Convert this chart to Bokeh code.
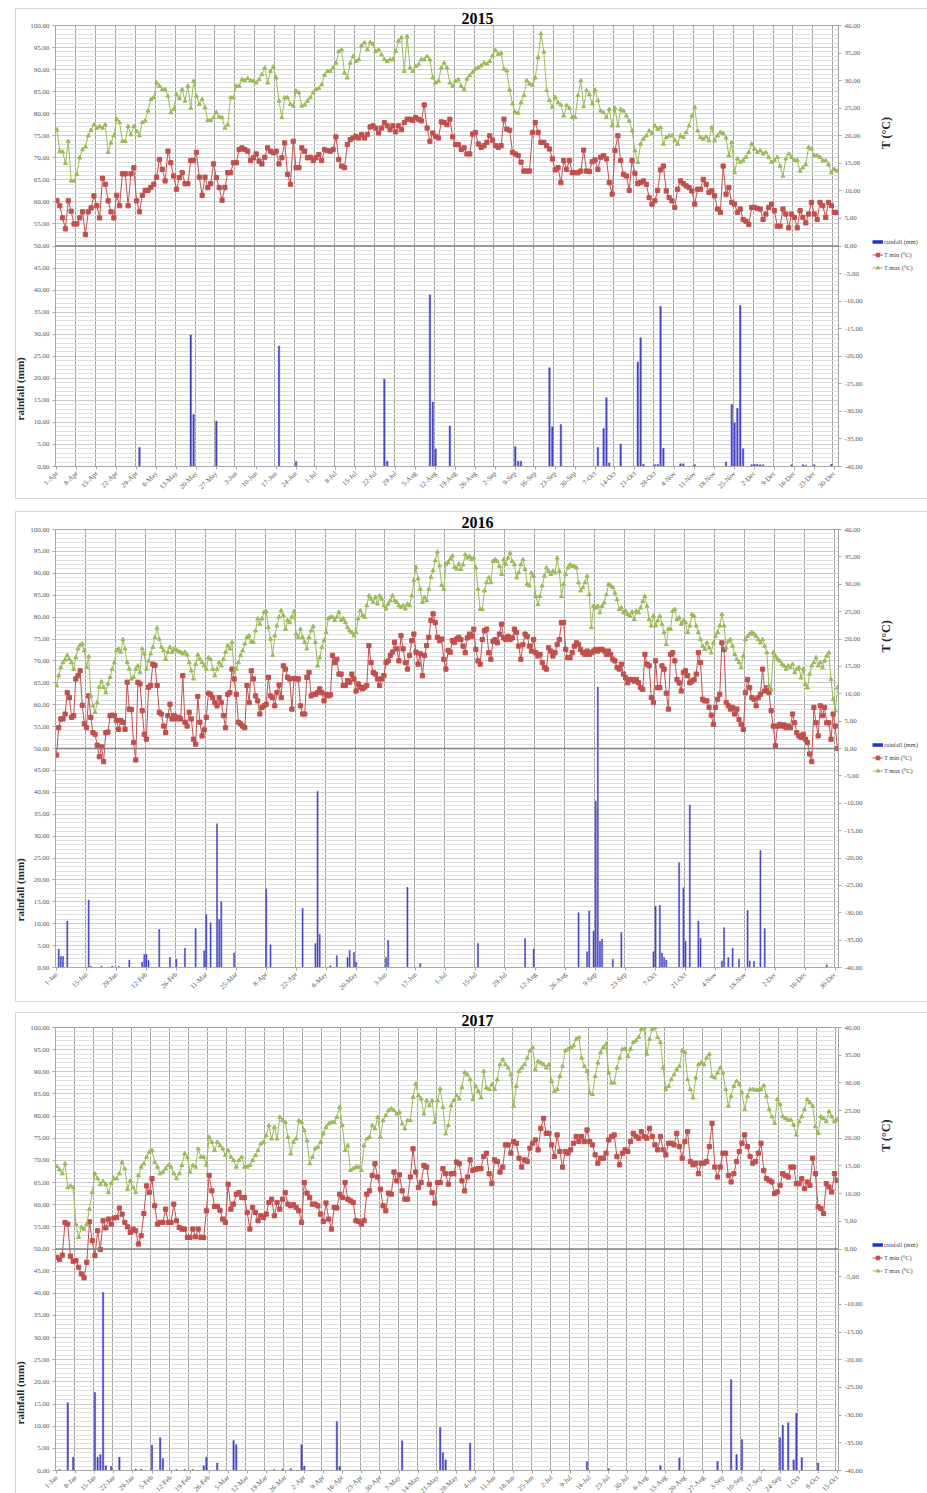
import math
from bokeh.plotting import figure
from bokeh.models import Range1d, LinearAxis, FixedTicker, Span, Label, Legend, LegendItem, Title
from bokeh.layouts import column, row
from bokeh.embed import file_html
from bokeh.resources import INLINE

# ---------------- data ----------------
ticks_2015 = ["1-Apr","8-Apr","15-Apr","22-Apr","29-Apr","6-May","13-May","20-May","27-May","3-Jun",
              "10-Jun","17-Jun","24-Jun","1-Jul","8-Jul","15-Jul","22-Jul","29-Jul","5-Aug","12-Aug",
              "19-Aug","26-Aug","2-Sep","9-Sep","16-Sep","23-Sep","30-Sep","7-Oct","14-Oct","21-Oct",
              "28-Oct","4-Nov","11-Nov","18-Nov","25-Nov","2-Dec","9-Dec","16-Dec","23-Dec","30-Dec"]
ticks_2016 = ["1-Jan","15-Jan","29-Jan","12-Feb","26-Feb","11-Mar","25-Mar","8-Apr","22-Apr","6-May",
              "20-May","3-Jun","17-Jun","1-Jul","15-Jul","29-Jul","12-Aug","26-Aug","9-Sep","23-Sep",
              "7-Oct","21-Oct","4-Nov","18-Nov","2-Dec","16-Dec","30-Dec"]
ticks_2017 = ["1-Jan","8-Jan","15-Jan","22-Jan","29-Jan","5-Feb","12-Feb","19-Feb","26-Feb","5-Mar",
              "12-Mar","19-Mar","26-Mar","2-Apr","9-Apr","16-Apr","23-Apr","30-Apr","7-May","14-May",
              "21-May","28-May","4-Jun","11-Jun","18-Jun","25-Jun","2-Jul","9-Jul","16-Jul","23-Jul",
              "30-Jul","6-Aug","13-Aug","20-Aug","27-Aug","3-Sep","10-Sep","17-Sep","24-Sep","1-Oct",
              "8-Oct","15-Oct"]

# daily temperatures (deg C), 2015: 1-Apr .. 31-Dec
tmax_2015 = [
 21.1,17.2,17.1,15.0,19.0,11.8,11.8,13.0,16.0,17.5, 18.0,20.0,21.0,22.0,21.4,21.7,21.4,22.0,17.0,18.7,
 20.0,23.0,22.4,19.0,19.0,21.7,20.2,21.7,20.8,20.0, 22.4,22.7,24.5,26.6,26.9,29.6,29.0,28.4,28.4,27.2,
 24.2,24.8,27.5,26.8,28.4,26.3,29.0,25.0,29.9,27.2, 25.7,26.6,25.1,22.8,22.8,23.3,24.2,23.4,23.3,21.4,
 22.0,26.9,26.9,29.0,29.0,30.2,30.0,30.4,30.0,29.9, 29.6,30.2,31.1,32.3,29.6,31.7,32.5,30.5,26.3,23.3,
 26.9,26.9,25.7,25.4,28.1,27.8,25.4,25.6,26.3,26.9, 27.8,28.4,28.6,29.3,31.0,31.7,31.7,32.3,33.2,35.3,
 35.6,31.4,30.5,33.2,34.4,33.5,33.8,36.3,36.9,35.6, 36.9,36.6,35.3,35.6,34.7,33.8,33.5,33.8,33.8,35.3,
 37.2,37.8,31.7,38.0,32.3,31.7,32.6,32.9,33.8,33.8, 34.4,33.8,30.5,29.6,29.9,32.3,33.2,32.3,29.6,29.0,
 29.9,30.2,29.0,28.4,30.3,30.9,31.5,32.1,32.4,32.7, 33.2,33.0,33.5,34.5,35.5,34.8,35.0,32.1,31.8,28.3,
 25.8,24.2,24.1,26.0,27.3,30.0,29.4,29.2,30.5,34.2, 38.5,35.2,28.2,26.4,25.2,27.0,26.0,25.6,23.6,25.5,
 25.0,23.3,23.3,27.3,30.0,25.3,28.2,27.5,25.8,28.3, 26.4,24.5,24.2,23.3,24.8,21.8,25.0,21.8,24.8,24.5,
 23.6,22.7,20.9,17.3,15.2,18.5,19.4,20.0,20.9,20.4, 21.8,21.2,21.5,18.5,19.7,20.0,20.0,19.2,18.5,20.0,
 19.7,20.6,21.8,23.6,25.2,20.9,19.7,19.4,19.8,19.1, 21.5,19.1,20.0,20.6,20.4,19.6,16.4,18.8,13.3,15.8,
 15.2,15.5,16.1,17.0,18.5,17.6,17.0,17.3,16.7,17.0, 16.1,15.2,15.5,16.1,14.5,12.7,15.8,16.7,16.1,15.5,
 15.6,13.6,14.2,14.8,17.9,17.6,16.4,16.4,16.1,15.5, 15.5,14.8,13.3,13.9,13.6]
tmin_2015 = [
 8.2,7.3,5.1,3.1,8.2,6.3,4.0,4.0,5.1,6.2, 2.1,6.2,6.9,9.1,7.3,5.1,12.3,11.2,8.2,6.2,
 5.1,9.2,7.3,13.1,13.1,7.3,13.1,14.2,8.2,6.2, 9.2,10.1,10.1,10.6,11.2,12.5,15.7,13.9,11.8,17.2,
 15.1,12.7,10.3,12.4,13.3,11.3,11.3,15.5,15.5,17.0, 12.5,9.2,12.5,10.6,11.3,14.9,12.4,10.6,8.3,10.6,
 13.3,13.3,15.1,15.1,17.5,17.8,17.5,17.2,15.5,16.0, 16.7,15.4,14.9,16.1,17.8,17.2,16.9,17.2,14.9,16.0,
 18.7,13.0,11.2,19.0,14.2,14.2,17.8,17.2,16.0,16.1, 15.5,16.0,16.6,15.5,17.5,17.3,17.2,17.5,19.8,15.7,
 14.5,14.2,18.4,19.3,19.6,19.9,19.6,20.2,19.6,20.2, 21.6,21.8,21.4,20.5,21.4,22.4,21.8,21.1,21.8,20.7,
 21.8,21.1,22.4,23.0,23.0,22.8,23.3,23.0,22.7,25.6, 21.4,19.0,20.5,19.9,19.6,22.5,22.4,22.0,23.0,19.8,
 18.4,18.4,17.5,17.8,16.7,16.7,20.3,20.6,18.5,17.9, 18.2,18.8,20.0,19.2,18.2,17.9,18.2,23.0,21.2,21.0,
 17.0,16.7,16.4,15.2,13.6,13.6,13.6,20.6,22.4,20.6, 18.8,18.8,18.2,17.6,15.8,13.8,14.2,11.5,15.5,13.9,
 15.5,13.3,13.3,13.3,13.6,17.4,13.6,13.5,15.3,15.6, 13.9,16.1,16.4,15.8,11.5,9.4,17.3,20.0,15.5,13.0,
 12.7,10.1,15.5,13.2,11.3,11.5,11.8,11.2,8.8,7.6, 8.2,10.1,13.8,14.5,10.0,8.8,8.2,7.0,10.3,11.8,
 11.3,10.9,10.6,10.0,7.6,10.3,10.3,12.1,11.2,9.7, 10.0,9.1,6.7,6.1,14.5,9.4,10.6,7.9,7.6,6.1,
 6.7,4.8,4.5,3.9,7.0,7.0,6.8,6.7,4.8,5.8, 7.0,7.6,6.4,3.6,3.6,6.7,5.8,3.3,5.8,5.2,
 3.3,6.4,5.2,4.2,5.8,7.9,5.8,4.8,7.9,7.3, 5.2,7.9,7.3,6.1,6.1]
rain_2015_day = [29,47,48,56,78,84,115,116,131,132, 133,138,161,162,163,173,174,177,190,192,
                 193,194,198,204,205,206,210,211,212,213, 219,220,224,235,237,238,239,240,241,244,
                 245,246,247,248,258,262,263,266,272]
rain_2015_mm = [4.3,29.8,11.8,10.3,27.3,1.1,19.8,1.2,38.9,14.6, 4.0,9.2,4.5,1.2,1.2,22.4,9.0,9.5,4.3,8.6,
                15.6,0.8,5.1,23.7,29.2,0.5,0.4,0.5,36.3,4.1, 0.6,0.6,0.4,1.0,14.1,9.9,13.2,36.5,4.0,0.4,
                0.5,0.5,0.4,0.4,0.4,0.4,0.3,0.4,0.5]

# 2016: 1-Jan .. 31-Dec
tmax_2016 = [
 11.5,13.3,14.8,15.7,16.2,17.0,16.3,15.7,14.5,16.6, 18.2,18.9,19.1,17.9,14.8,16.8,9.6,7.8,6.6,8.4,
 11.2,12.2,11.2,10.2,11.8,13.0,14.5,15.7,17.9,18.2, 17.6,19.9,18.2,15.7,14.5,12.7,13.0,14.5,15.1,13.9,
 18.2,17.3,14.5,16.0,17.3,18.5,20.3,22.0,20.0,18.5, 17.9,16.3,17.6,18.5,17.6,18.2,18.0,17.7,17.6,17.3,
 17.6,17.1,15.7,14.2,12.7,15.4,17.1,16.3,15.7,15.1, 14.5,16.6,16.3,14.5,13.3,14.5,15.7,15.1,16.3,17.6,
 18.8,18.2,19.4,13.9,14.5,15.7,17.0,17.9,19.1,20.3, 20.6,19.5,19.4,21.5,23.7,22.7,23.7,24.9,25.0,22.1,
 20.0,17.0,20.6,22.4,24.0,25.2,24.3,21.8,23.4,23.0, 24.0,25.0,20.9,20.3,21.8,20.3,19.4,18.2,20.3,21.5,
 22.3,19.4,15.1,16.6,18.5,19.7,21.2,23.7,24.0,24.0, 23.4,24.0,24.9,23.4,23.7,23.0,22.1,21.5,21.2,20.6,
 21.2,23.7,25.2,24.3,24.0,26.1,27.9,27.3,26.7,27.6, 26.4,27.9,27.3,26.1,25.5,26.4,27.0,27.9,27.0,26.7,
 26.1,25.8,26.1,25.5,26.4,26.1,27.9,30.7,33.1,31.0, 29.1,26.7,27.6,27.0,29.1,31.3,32.5,34.3,35.9,33.4,
 29.8,29.1,33.7,34.0,34.6,35.2,33.1,32.8,33.7,32.7, 33.6,35.4,34.8,35.1,34.5,34.8,33.0,29.1,25.4,25.4,
 28.8,30.3,31.2,30.3,34.2,34.5,34.2,33.3,31.8,34.5, 33.6,34.8,35.7,34.2,33.6,31.2,32.1,33.6,34.5,32.7,
 30.0,29.7,32.1,31.5,27.8,26.3,27.8,29.7,31.5,33.0, 32.4,31.8,32.4,32.1,34.8,32.4,27.8,30.0,31.8,33.0,
 33.6,33.3,33.3,33.0,30.3,28.8,29.4,30.3,31.5,28.1, 22.1,26.0,25.7,26.0,24.8,26.0,26.6,28.1,30.0,29.7,
 29.4,28.4,27.2,25.4,25.7,24.8,25.1,24.5,24.2,24.9, 23.6,25.1,24.8,25.7,26.9,27.8,26.0,23.6,22.4,24.2,
 22.4,23.3,24.2,22.7,21.2,19.0,21.8,21.8,25.1,25.4, 23.6,23.9,22.7,23.3,23.0,21.2,22.4,24.5,24.2,22.4,
 21.2,19.9,18.7,18.1,19.3,18.4,17.5,19.3,20.5,21.2, 22.4,24.5,22.4,18.4,19.6,19.9,18.7,17.2,16.3,15.7,
 14.8,16.9,19.9,20.5,20.9,21.2,20.9,20.5,19.9,19.3, 19.9,18.7,17.5,11.4,10.8,17.5,16.9,16.3,16.0,15.4,
 15.1,14.5,15.1,14.8,15.4,13.9,14.5,14.8,12.9,14.5, 11.7,11.1,13.6,15.1,15.7,16.6,15.1,15.7,14.8,16.0,
 16.9,17.5,12.6,9.0,6.9,11.1]
tmin_2016 = [
 -1.2,3.8,5.4,5.4,6.3,10.2,9.3,5.7,6.0,12.7, 13.3,14.2,7.9,4.5,3.8,9.6,5.7,2.9,2.6,0.6,
 -1.5,0.3,-2.4,2.9,3.0,6.0,6.1,6.0,5.1,3.5, 5.1,4.8,3.5,12.1,7.2,7.1,1.1,-2.1,12.1,11.8,
 6.9,2.6,1.7,11.2,11.5,15.4,15.2,11.5,6.6,6.3, 4.1,2.9,6.0,8.1,5.4,6.0,5.4,5.7,5.4,13.3,
 4.8,4.1,6.6,5.4,1.7,0.8,9.5,4.8,2.3,3.4, 5.7,10.1,9.9,9.3,8.4,7.8,9.3,8.4,6.0,3.8,
 9.9,10.2,14.5,12.7,9.9,4.8,4.5,4.1,3.8,11.5, 8.4,14.2,12.7,9.6,8.7,6.3,7.5,7.8,8.1,13.0,
 9.6,9.3,7.8,10.2,11.6,9.3,15.1,14.5,13.0,12.7, 7.2,12.8,12.7,12.7,7.8,6.3,6.3,13.0,13.9,9.6,
 9.9,9.9,10.2,10.9,10.2,8.7,9.9,9.6,9.8,17.0, 15.7,16.3,13.6,13.6,11.5,11.5,12.4,12.1,13.6,12.7,
 10.5,11.8,11.2,10.9,11.2,11.5,18.8,15.7,13.9,13.6, 12.7,11.5,12.7,13.3,15.7,16.0,17.0,17.6,19.4,18.2,
 16.0,20.6,18.2,15.7,14.5,17.0,19.7,20.9,17.6,15.4, 17.3,13.3,17.0,18.8,20.3,23.4,24.6,23.0,20.3,19.7,
 20.0,16.3,14.5,17.9,17.6,19.7,19.4,20.0,20.3,19.9, 18.7,17.5,20.2,20.9,20.5,21.8,18.1,16.0,15.4,19.9,
 21.5,21.8,17.5,16.3,19.6,19.9,19.3,20.9,22.7,20.2, 19.9,20.5,19.9,20.2,21.8,21.2,18.7,16.3,19.0,20.9,
 20.5,18.7,17.8,19.9,17.5,16.9,17.2,15.7,14.8,14.5, 18.4,17.8,16.9,17.5,19.0,19.9,23.0,23.0,18.1,16.6,
 16.6,17.5,18.7,19.3,19.0,18.1,17.5,17.2,17.8,17.2, 17.5,17.8,18.1,17.8,18.1,18.1,17.8,17.2,17.8,17.2,
 16.3,16.0,14.8,14.5,15.4,13.6,12.9,12.0,12.6,12.6, 12.3,12.6,12.0,11.1,10.8,17.2,15.4,15.1,9.3,8.4,
 16.0,11.1,11.1,15.1,14.5,10.1,7.2,17.2,17.5,16.0, 12.6,12.0,10.5,13.9,14.2,13.3,12.0,12.3,12.6,13.6,
 17.5,15.7,9.0,8.7,8.7,7.5,6.1,4.4,7.5,9.0, 9.9,19.3,18.1,8.4,7.8,7.2,7.5,6.3,7.2,5.3,
 4.4,3.5,10.2,12.6,11.1,9.3,9.0,7.8,9.3,9.9, 14.5,10.5,11.1,10.2,6.9,4.1,0.5,4.1,4.4,4.1,
 4.3,3.8,4.1,3.8,6.3,4.7,2.9,2.3,2.0,2.6, 1.7,1.1,-1.0,-2.4,7.5,4.7,2.3,7.8,6.0,7.5,
 4.7,4.7,1.7,6.3,4.1,0.0]
rain_2016_day = [1,2,3,5,15,16,21,26,29,34, 40,41,42,43,48,53,56,60,65,69,
                 70,72,75,76,77,83,98,100,115,121, 122,123,128,131,136,137,139,140,154,155,
                 164,170,197,219,223,244,248,249,251,252, 253,254,255,260,264,279,280,282,283,284,
                 285,291,293,294,296,300,301,311,312,314, 316,319,323,324,326,329,331,360]
rain_2016_mm = [4.2,2.5,2.5,10.6,15.4,0.3,0.3,0.3,0.3,1.7, 1.2,3.0,3.0,1.6,8.7,2.3,1.9,4.4,8.9,3.8,
                12.1,10.2,32.8,11.0,15.0,3.3,18.0,5.2,13.5,5.5, 40.2,7.6,0.4,2.7,2.3,3.9,3.4,1.2,2.3,6.2,
                18.3,0.9,5.5,6.6,4.2,12.5,3.6,12.9,8.3,38.0, 64.0,6.0,6.5,1.9,8.0,3.6,14.0,14.2,3.3,2.3,
                1.7,23.9,18.2,6.0,37.1,10.6,6.7,1.5,9.1,2.3, 4.4,1.9,13.0,1.5,1.4,26.7,8.9,0.6]

# 2017: 1-Jan .. 15-Oct
tmax_2017 = [
 14.9,14.3,13.6,15.4,11.1,11.4,11.1,4.5,2.1,3.9, 3.6,4.5,7.2,10.2,13.6,12.7,11.7,12.2,11.7,10.2,
 11.9,12.7,12.7,13.6,15.7,14.5,10.8,12.3,11.1,10.2, 13.3,14.8,15.4,16.6,17.5,17.8,15.7,14.8,13.6,13.9,
 14.5,15.1,14.8,13.6,12.7,13.6,15.1,17.2,16.6,13.9, 15.1,14.8,18.1,16.6,16.6,15.1,20.2,19.3,17.8,19.3,
 18.7,18.1,16.9,17.8,16.6,16.0,14.8,16.0,16.6,14.8, 14.8,15.1,16.0,16.9,17.8,19.0,19.3,20.5,22.3,19.9,
 22.0,19.9,23.8,23.2,22.9,20.2,17.2,19.3,19.9,23.2, 22.9,21.4,19.6,15.4,16.6,18.1,18.4,19.3,20.8,22.0,
 22.6,22.9,22.9,23.8,25.6,22.3,17.8,18.7,14.2,14.5, 14.8,14.8,14.2,18.7,19.9,20.2,22.3,21.7,23.8,20.2,
 23.2,24.1,25.0,25.3,25.0,24.4,24.7,22.6,21.7,23.2, 23.2,27.4,29.8,27.7,27.1,24.4,26.8,25.9,26.8,22.9,
 26.8,28.9,25.6,20.8,22.3,25.9,26.8,27.7,27.1,29.2, 31.9,31.5,30.6,27.0,29.4,28.5,27.3,32.1,29.1,28.8,
 29.7,28.8,30.6,33.3,34.2,33.3,32.7,31.5,25.8,29.4, 32.1,32.7,33.3,34.5,35.8,36.4,32.4,33.9,33.6,33.3,
 32.7,33.3,30.3,28.5,28.8,31.2,33.0,35.8,36.1,36.4, 36.7,37.9,38.2,34.5,33.0,32.1,28.2,27.9,31.2,33.6,
 35.5,36.4,37.0,31.8,30.0,30.0,32.7,34.5,36.1,36.1, 34.8,36.1,37.3,37.6,38.2,39.7,40.0,35.2,37.9,39.7,
 40.0,38.2,37.3,32.7,28.8,29.4,30.6,31.5,32.4,33.0, 35.8,35.5,30.6,28.8,27.3,30.9,33.3,33.6,33.3,34.5,
 35.2,31.2,30.9,31.8,32.7,31.8,28.8,25.8,27.6,29.4, 30.3,29.7,28.2,25.2,27.6,28.8,28.8,28.7,28.7,28.8,
 29.5,27.6,25.2,23.9,22.7,27.0,26.1,23.9,23.6,23.3, 23.3,22.4,20.6,23.0,23.9,25.2,27.0,26.4,25.8,22.1,
 20.9,23.9,23.6,23.0,24.8,23.9,23.0,23.3]
tmin_2017 = [
 -1.5,-1.9,-1.1,4.8,4.5,-1.3,-2.2,-2.1,-3.3,-4.5, -5.2,-2.4,4.9,1.5,-1.2,3.3,-0.1,5.1,3.8,5.4,
 4.5,5.6,5.7,7.4,6.3,4.8,4.0,3.0,3.6,3.3, 0.9,2.4,6.4,11.4,10.2,12.7,7.8,4.5,4.8,4.8,
 7.2,4.8,4.8,8.1,5.1,3.9,3.6,3.6,2.1,2.1, 3.6,2.2,3.6,2.1,2.1,6.9,13.3,10.5,7.7,7.7,
 7.0,5.4,4.8,11.7,7.2,8.1,9.9,10.2,9.3,9.3, 6.6,3.6,7.5,6.6,5.1,6.0,5.7,6.3,8.4,9.0,
 6.0,8.4,7.2,9.0,10.2,8.1,7.8,8.0,7.5,6.9, 4.8,12.0,10.1,9.3,8.1,8.1,7.8,6.3,5.0,8.3,
 5.4,3.6,7.5,7.4,9.9,9.3,12.0,9.0,8.7,8.4, 5.1,5.0,4.5,5.1,9.9,10.5,13.3,15.4,13.0,10.8,
 7.8,6.9,10.1,9.9,13.9,12.3,13.4,10.5,9.0,9.0, 13.0,18.1,13.9,11.1,12.0,15.1,14.8,11.7,10.2,8.3,
 12.0,12.0,14.5,13.6,11.7,13.6,13.6,15.7,15.4,12.3, 10.5,13.0,16.1,14.2,14.4,14.5,14.5,16.7,17.3,13.6,
 11.8,16.1,15.8,13.9,14.8,18.8,18.8,17.3,19.4,19.1, 16.4,14.8,16.1,15.8,18.2,19.1,19.7,17.9,21.8,23.6,
 20.9,20.9,18.8,16.7,20.6,17.6,14.8,17.6,17.3,17.9, 19.1,20.3,19.4,20.3,19.4,21.5,19.4,18.8,17.0,15.5,
 16.4,16.4,17.3,19.7,20.3,20.6,16.7,15.2,17.3,17.9, 17.6,19.4,20.9,20.3,20.0,21.2,20.3,20.0,21.8,20.3,
 18.8,17.9,20.3,17.9,17.0,19.1,19.1,18.8,20.9,18.5, 16.4,19.4,21.2,15.8,15.2,15.5,13.6,15.5,15.5,15.8,
 18.5,22.7,14.8,13.0,14.8,17.3,17.3,13.3,12.1,13.6, 15.8,17.6,19.1,20.6,18.5,16.7,15.5,15.8,17.3,19.1,
 14.2,12.7,12.4,12.1,10.0,10.3,11.5,13.6,13.3,13.0, 14.8,14.8,11.8,11.8,12.7,10.9,12.1,11.5,16.4,13.6,
 7.6,7.3,6.4,11.8,11.2,10.3,13.6,12.4]
rain_2017_day = [1,4,6,14,15,16,17,18,20,23, 29,31,35,38,39,44,47,50,54,55,
                 59,65,66,80,83,86,90,91,103,104, 127,141,142,143,152,195,203,222,229,243,
                 248,250,252,260,266,267,269,271,272,274, 280]
rain_2017_mm = [0.2,15.3,3.0,17.6,3.0,3.6,40.2,1.1,0.9,3.0, 0.3,0.3,5.7,7.4,2.7,0.2,0.2,0.2,1.1,3.0,
                1.7,6.8,5.8,0.2,0.3,0.4,5.8,1.0,11.0,0.9, 6.7,9.7,4.0,2.4,6.2,2.0,0.4,1.1,2.8,2.0,
                20.5,3.6,7.0,0.2,7.4,10.2,10.8,2.4,12.9,2.9, 1.7]

legend_labels = ["rainfall (mm)", "T min (°C)", "T max (°C)"]

# ---------------- styling ----------------
SERIF = "Liberation Serif"
RED = "#C0504D"
GREEN = "#9BBB59"
BLUE = "#4444C4"
LEG_BLUE = "#2233CC"
LBL = "#595959"
EDGE = "#d6d6d6"
FW = 783          # plot-area width
RIGHT = 34        # right axis strip
STRIP = 55        # legend / T label strip


def panel(title, n, tick_labels, step, tmin, tmax, rday, rmm, top, fh, bottom, box_top, box_h):
    p = figure(frame_width=FW, frame_height=fh, x_range=Range1d(0, n), y_range=Range1d(0, 100),
               output_backend="svg", toolbar_location=None,
               min_border_left=55, min_border_right=RIGHT, min_border_top=top, min_border_bottom=bottom,
               outline_line_color="#a6a6a6", background_fill_color="white", border_fill_color=None)
    p.extra_y_ranges = {"temp": Range1d(-40, 40)}

    # grids
    p.xgrid.ticker = FixedTicker(ticks=[k * step for k in range(1, len(tick_labels) + 1)])
    p.xgrid.grid_line_color = "#a0a0a0"
    p.ygrid.ticker = FixedTicker(ticks=list(range(0, 101, 5)), minor_ticks=list(range(0, 101)))
    p.ygrid.grid_line_color = "#cbcbcb"
    p.ygrid.minor_grid_line_color = "#e0e0e0"
    p.add_layout(Span(location=50, dimension="width", line_color="#808080", line_width=1.3))

    # rainfall bars
    p.vbar(x=[d + 0.5 for d in rday], top=rmm, width=0.5, fill_color=BLUE, line_color=BLUE, line_width=0.5)
    # temperatures
    xs1 = [i + 0.5 for i in range(len(tmin))]
    xs2 = [i + 0.5 for i in range(len(tmax))]
    p.line(xs1, tmin, y_range_name="temp", line_color=RED, line_width=1)
    p.scatter(xs1, tmin, y_range_name="temp", marker="square", size=4.2, fill_color=RED, line_color=RED)
    p.line(xs2, tmax, y_range_name="temp", line_color=GREEN, line_width=1)
    p.scatter(xs2, tmax, y_range_name="temp", marker="triangle", size=4.0, fill_color=GREEN, line_color=GREEN)

    # axes
    yl = p.yaxis[0]
    yl.ticker = FixedTicker(ticks=list(range(0, 101, 5)))
    yl.major_label_overrides = {v: f"{v},00" for v in range(0, 101, 5)}
    yr = LinearAxis(y_range_name="temp", ticker=FixedTicker(ticks=list(range(-40, 41, 5))))
    yr.major_label_overrides = {v: f"{v},00" for v in range(-40, 41, 5)}
    p.add_layout(yr, "right")
    xa = p.xaxis[0]
    tpos = [k * step + 0.5 for k in range(len(tick_labels))]
    xa.ticker = FixedTicker(ticks=tpos)
    xa.major_label_overrides = dict(zip(tpos, tick_labels))
    xa.major_label_orientation = math.pi / 4
    for ax in (yl, yr, xa):
        ax.major_label_text_font = SERIF
        ax.major_label_text_font_size = "7px"
        ax.major_label_text_color = LBL
        ax.axis_line_color = "#a6a6a6"
        ax.major_tick_line_color = "#a6a6a6"
        ax.major_tick_in = 0
        ax.major_tick_out = 3
        ax.minor_tick_line_color = None
        ax.major_label_standoff = 3

    # title and rainfall axis title (layout titles, outside the frame)
    p.add_layout(Title(text=title, align="left", offset=406, standoff=4, text_font=SERIF,
                       text_font_style="bold", text_font_size="16px", text_color="#000000"), "above")
    p.add_layout(Title(text="rainfall (mm)", align="left", offset=46, standoff=3, text_font=SERIF,
                       text_font_style="bold", text_font_size="11px", text_color="#262626"), "left")

    # right strip: temperature axis title + legend
    s = figure(frame_width=STRIP, frame_height=fh, x_range=Range1d(0, STRIP), y_range=Range1d(0, 100),
               output_backend="svg", toolbar_location=None, x_axis_location=None, y_axis_location=None,
               min_border_left=0, min_border_right=0, min_border_top=top, min_border_bottom=bottom,
               outline_line_color=None, background_fill_color="white", border_fill_color=None)
    s.xgrid.visible = False
    s.ygrid.visible = False
    s.add_layout(Label(x=13, y=75.6, text="T (°C)", angle=math.pi / 2, text_align="center",
                       text_baseline="middle", text_font=SERIF, text_font_style="bold",
                       text_font_size="12px", text_color="#262626"))
    # legend swatch renderers (their points sit outside the visible range; only the legend shows them)
    off_x, off_y = [-50, -40], [-50, -50]
    rb = s.line(off_x, off_y, line_color=LEG_BLUE, line_width=3.5)
    rl = s.line(off_x, off_y, line_color=RED, line_width=1)
    rs = s.scatter(off_x, off_y, marker="square", size=4.2, fill_color=RED, line_color=RED)
    gl = s.line(off_x, off_y, line_color=GREEN, line_width=1)
    gs = s.scatter(off_x, off_y, marker="triangle", size=4.0, fill_color=GREEN, line_color=GREEN)
    legend = Legend(items=[LegendItem(label=legend_labels[0], renderers=[rb]),
                           LegendItem(label=legend_labels[1], renderers=[rl, rs]),
                           LegendItem(label=legend_labels[2], renderers=[gl, gs])],
                    location=(0, fh / 2 - 26.5))
    legend.label_text_font = SERIF
    legend.label_text_font_size = "6.3px"
    legend.label_text_color = "#404040"
    legend.border_line_color = None
    legend.background_fill_alpha = 0
    legend.glyph_width = 11
    legend.glyph_height = 9
    legend.label_height = 9
    legend.spacing = 4
    legend.padding = 0
    legend.margin = 0
    legend.label_standoff = 1
    s.add_layout(legend)

    # thin chart-area border drawn as a CSS background (no effect on layout)
    g = f"linear-gradient({EDGE},{EDGE})"
    r = row(p, s, spacing=0)
    r.styles = {
        "background-color": "white",
        "background-image": f"{g},{g},{g}",
        "background-size": f"912px 1px, 1px {box_h}px, 912px 1px",
        "background-position": f"15px {box_top}px, 15px {box_top}px, 15px {box_top + box_h}px",
        "background-repeat": "no-repeat",
    }
    return r


p1 = panel("2015", 275, ticks_2015, 7, tmin_2015, tmax_2015, rain_2015_day, rain_2015_mm, 25, 441, 39, 8, 490)
p2 = panel("2016", 366, ticks_2016, 14, tmin_2016, tmax_2016, rain_2016_day, rain_2016_mm, 24, 438, 38, 6, 490)
p3 = panel("2017", 288, ticks_2017, 7, tmin_2017, tmax_2017, rain_2017_day, rain_2017_mm, 22, 443, 23, 7, 520)

layout = column(p1, p2, p3, spacing=0)
open("out.html", "w").write(file_html(layout, INLINE))
